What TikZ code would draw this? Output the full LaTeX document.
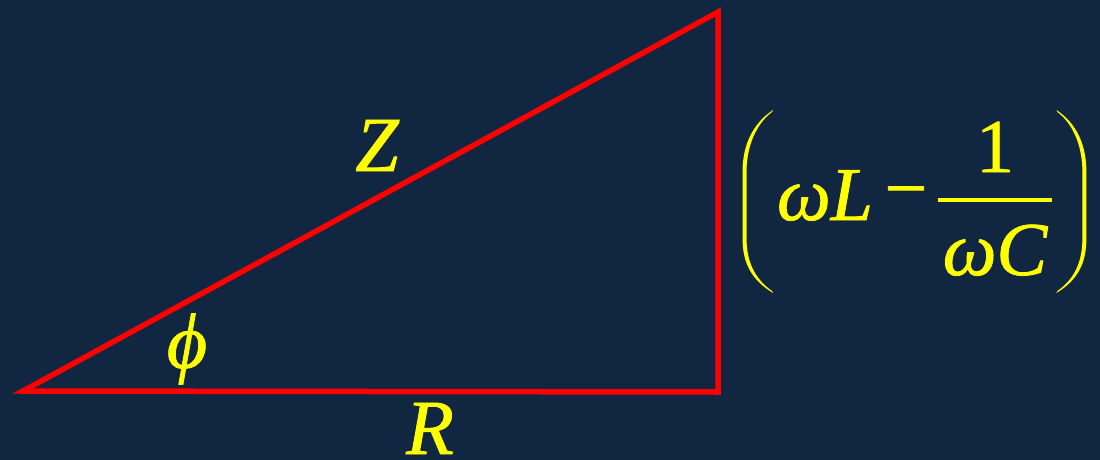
\documentclass[tikz,border=0pt]{standalone}
\usepackage{fontspec}
\setmainfont{Liberation Serif}
\newfontfamily\lbit{Liberation Serif Italic}[FakeBold=1]
\newfontfamily\lbrm{Liberation Serif}[FakeBold=1]
\definecolor{bg}{HTML}{112640}
\definecolor{lblyellow}{HTML}{FFFF00}
\definecolor{sidered}{HTML}{FF0000}
\begin{document}
\begin{tikzpicture}[x=1pt,y=-1pt]
\tikzset{
  lbl/.style={text=lblyellow, inner sep=0pt, font=\fontsize{78}{78}\lbit},
  fml/.style={text=lblyellow, inner sep=0pt, font=\fontsize{76}{76}\lbrm},
  side/.style={draw=sidered, line width=5.5pt, line join=miter},
  bar/.style={draw=lblyellow, line width=3.6pt},
  parenfill/.style={fill=lblyellow}
}
\fill[bg] (0,0) rectangle (1100,460);
\useasboundingbox (0,0) rectangle (1100,460);
\coordinate (A) at (23,391);
\coordinate (B) at (718,392);
\coordinate (C) at (718,12);
\draw[side] (A) -- (B) -- (C) -- cycle;
\node[lbl, anchor=base] (z) at (377,171) {Z};
\node[lbl] (phi) at (187,349) {ϕ};
\node[lbl, anchor=base] (r) at (430,454) {R};
\node[fml, anchor=base] (wl) at (825,220) {\lbit ωL};
\node[fml] (minus) at (906,200) {−};
\node[fml, anchor=base] (one) at (995,172) {1};
\node[fml, anchor=base] (wc) at (995,275) {\lbit ωC};
\coordinate (fb1) at (938,200);
\coordinate (fb2) at (1052,200);
\draw[bar] (fb1) -- (fb2);
% left parenthesis
\fill[parenfill] (773,110) .. controls (752,124) and (742.5,146) .. (742.5,172)
  -- (742.5,238) .. controls (742.5,264) and (752,280) .. (773,293)
  -- (772,291) .. controls (755,279) and (746.5,262) .. (746.5,238)
  -- (746.5,172) .. controls (746.5,148) and (755,125) .. (772,112) -- cycle;
% right parenthesis
\fill[parenfill] (1056.4,110) .. controls (1077.4,124) and (1086.4,146) .. (1086.4,172)
  -- (1086.4,238) .. controls (1086.4,264) and (1077.4,280) .. (1056.4,293)
  -- (1057.4,291) .. controls (1074.4,279) and (1082.4,262) .. (1082.4,238)
  -- (1082.4,172) .. controls (1082.4,148) and (1074.4,125) .. (1057.4,112) -- cycle;
\end{tikzpicture}
\end{document}
